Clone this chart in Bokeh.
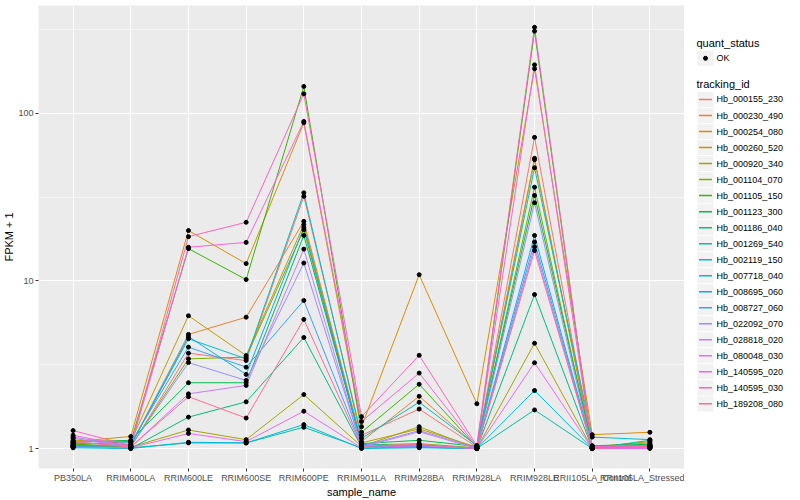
from bokeh.plotting import figure
from bokeh.models import FactorRange, Range1d, FixedTicker, PrintfTickFormatter
from bokeh.layouts import row
from bokeh.core.properties import value
from bokeh.embed import file_html
from bokeh.resources import INLINE

samples = ["PB350LA", "RRIM600LA", "RRIM600LE", "RRIM600SE", "RRIM600PE", "RRIM901LA",
           "RRIM928BA", "RRIM928LA", "RRIM928LE", "RRII105LA_Control", "RRII105LA_Stressed"]

tracking_ids = ["Hb_000155_230", "Hb_000230_490", "Hb_000254_080", "Hb_000260_520", "Hb_000920_340",
                "Hb_001104_070", "Hb_001105_150", "Hb_001123_300", "Hb_001186_040", "Hb_001269_540",
                "Hb_002119_150", "Hb_007718_040", "Hb_008695_060", "Hb_008727_060", "Hb_022092_070",
                "Hb_028818_020", "Hb_080048_030", "Hb_140595_020", "Hb_140595_030", "Hb_189208_080"]

colors = ["#F8766D", "#EA8331", "#D89000", "#C09B00", "#A3A500", "#7CAE00", "#39B600", "#00BB4E",
          "#00BF7D", "#00C1A3", "#00BFC4", "#00BAE0", "#00B0F6", "#35A2FF", "#9590FF", "#C77CFF",
          "#E76BF3", "#FA62DB", "#FF62BC", "#FF6C91"]

# FPKM + 1 per sample, one list per tracking_id
hb_000155_230 = [1.05, 1.02, 3.71, 3.35, 32.0, 1.20, 1.72, 1.02, 72.0, 1.02, 1.05]
hb_000230_490 = [1.08, 1.05, 4.80, 6.08, 22.7, 1.10, 2.05, 1.03, 54.0, 1.03, 1.08]
hb_000254_080 = [1.10, 1.18, 20.0, 12.7, 88.0, 1.35, 10.9, 1.85, 185.0, 1.21, 1.25]
hb_000260_520 = [1.12, 1.10, 6.20, 3.59, 21.7, 1.08, 1.31, 1.02, 53.0, 1.02, 1.10]
hb_000920_340 = [1.06, 1.02, 1.29, 1.13, 2.10, 1.03, 1.35, 1.00, 4.25, 1.00, 1.04]
hb_001104_070 = [1.04, 1.03, 3.43, 3.51, 20.2, 1.05, 1.07, 1.01, 36.3, 1.01, 1.03]
hb_001105_150 = [1.05, 1.10, 15.6, 10.2, 145.0, 1.25, 2.42, 1.02, 310.0, 1.01, 1.05]
hb_001123_300 = [1.09, 1.12, 2.47, 2.47, 18.7, 1.07, 1.12, 1.03, 32.4, 1.04, 1.06]
hb_001186_040 = [1.03, 1.00, 1.54, 1.90, 4.60, 1.02, 1.05, 1.00, 8.30, 1.00, 1.02]
hb_001269_540 = [1.02, 1.01, 1.08, 1.08, 1.34, 1.01, 1.02, 1.00, 1.70, 1.00, 1.12]
hb_002119_150 = [1.04, 1.05, 4.52, 3.43, 33.6, 1.15, 1.89, 1.04, 47.4, 1.17, 1.13]
hb_007718_040 = [1.01, 1.00, 1.09, 1.08, 1.39, 1.00, 1.01, 1.00, 2.22, 1.00, 1.01]
hb_008695_060 = [1.03, 1.04, 4.66, 2.77, 20.9, 1.06, 1.03, 1.01, 18.7, 1.02, 1.03]
hb_008727_060 = [1.07, 1.08, 4.03, 3.06, 7.65, 1.04, 1.02, 1.00, 17.1, 1.01, 1.02]
hb_022092_070 = [1.17, 1.03, 3.26, 2.55, 12.8, 1.03, 1.28, 1.01, 29.3, 1.00, 1.01]
hb_028818_020 = [1.15, 1.02, 2.12, 2.38, 15.5, 1.02, 1.26, 1.00, 16.0, 1.00, 1.01]
hb_080048_030 = [1.02, 1.01, 1.23, 1.10, 1.67, 1.01, 1.04, 1.00, 3.25, 1.00, 1.00]
hb_140595_020 = [1.20, 1.03, 15.9, 17.0, 89.6, 1.45, 2.82, 1.03, 195.0, 1.03, 1.04]
hb_140595_030 = [1.28, 1.04, 18.4, 22.4, 131.0, 1.55, 3.60, 1.04, 327.0, 1.02, 1.03]
hb_189208_080 = [1.10, 1.02, 2.04, 1.52, 5.90, 1.03, 1.06, 1.00, 15.2, 1.00, 1.02]

series = [hb_000155_230, hb_000230_490, hb_000254_080, hb_000260_520, hb_000920_340,
          hb_001104_070, hb_001105_150, hb_001123_300, hb_001186_040, hb_001269_540,
          hb_002119_150, hb_007718_040, hb_008695_060, hb_008727_060, hb_022092_070,
          hb_028818_020, hb_080048_030, hb_140595_020, hb_140595_030, hb_189208_080]

y_major = [1, 10, 100]
y_minor = [10 ** 0.5, 10 ** 1.5, 10 ** 2.5]

FONT = "Liberation Sans"
MAIN_W = 684
H = 500

p = figure(x_range=FactorRange(factors=samples, range_padding=0.1, range_padding_units="absolute"),
           y_range=Range1d(0.76, 441), y_axis_type="log",
           width=MAIN_W, height=H, output_backend="svg", toolbar_location=None,
           min_border_left=30, min_border_right=0, min_border_top=5, min_border_bottom=28)
p.background_fill_color = "#EBEBEB"
p.border_fill_color = "white"
p.outline_line_color = None

p.yaxis.ticker = FixedTicker(ticks=y_major, minor_ticks=y_minor)
p.yaxis.formatter = PrintfTickFormatter(format="%d")
p.ygrid.ticker = FixedTicker(ticks=y_major, minor_ticks=y_minor)
for g in (p.xgrid, p.ygrid):
    g.grid_line_color = "white"
    g.grid_line_width = 1.1
p.ygrid.minor_grid_line_color = "white"
p.ygrid.minor_grid_line_width = 0.5

for ax in (p.xaxis, p.yaxis):
    ax.axis_line_color = None
    ax.major_tick_line_color = "#333333"
    ax.major_tick_out = 3
    ax.major_tick_in = 0
    ax.minor_tick_line_color = None
    ax.major_label_text_font = FONT
    ax.major_label_text_font_size = "9px"
    ax.major_label_text_color = "#4D4D4D"
    ax.major_label_standoff = 1
    ax.axis_label_text_font = FONT
    ax.axis_label_text_font_size = "11px"
    ax.axis_label_text_font_style = "normal"
    ax.axis_label_text_color = "black"
    ax.axis_label_standoff = 0
p.xaxis.axis_label = "sample_name"
p.yaxis.axis_label = "FPKM + 1"

for vals, col in zip(series, colors):
    p.line(x=samples, y=vals, line_color=col, line_width=1.0)
for vals in series:
    p.scatter(x=samples, y=vals, size=4, color="black")

# legend panel (figure pixel coordinates, y downward)
LW = 800 - MAIN_W
lg = figure(width=LW, height=H, x_range=Range1d(0, LW), y_range=Range1d(H, 0),
            output_backend="svg", toolbar_location=None,
            min_border_left=0, min_border_right=0, min_border_top=0, min_border_bottom=0)
lg.axis.visible = False
lg.grid.visible = False
lg.outline_line_color = None
lg.background_fill_color = "white"
lg.border_fill_color = "white"

lg.text(x=[12], y=[40], text=["quant_status"], text_font=value(FONT), text_font_size="11px",
        text_baseline="middle", text_align="left", text_color="black")
lg.rect(x=[21], y=[57], width=16, height=16, fill_color="#F2F2F2", line_color=None)
lg.scatter(x=[21], y=[57], size=4, color="black")
lg.text(x=[32], y=[57], text=["OK"], text_font=value(FONT), text_font_size="9px",
        text_baseline="middle", text_align="left", text_color="black")

lg.text(x=[12], y=[85], text=["tracking_id"], text_font=value(FONT), text_font_size="11px",
        text_baseline="middle", text_align="left", text_color="black")
n = len(tracking_ids)
ky = [101.5 + 17.3 * i for i in range(n)]
lg.rect(x=[21] * n, y=ky, width=16, height=16.3, fill_color="#F2F2F2", line_color=None)
for yk, col in zip(ky, colors):
    lg.line(x=[14.5, 27.5], y=[yk, yk], line_color=col, line_width=1.5)
lg.text(x=[32] * n, y=ky, text=tracking_ids, text_font=value(FONT), text_font_size="9px",
        text_baseline="middle", text_align="left", text_color="black")

layout = row(p, lg, spacing=0)
open("out.html", "w").write(file_html(layout, INLINE))
